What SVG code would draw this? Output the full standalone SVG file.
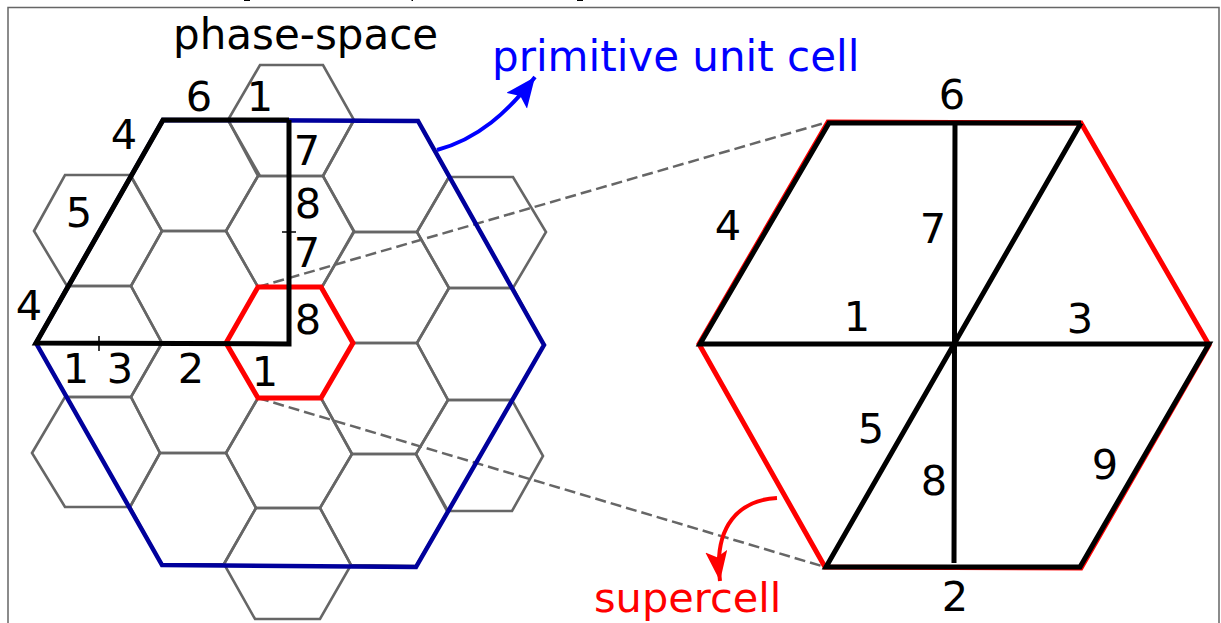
<svg xmlns="http://www.w3.org/2000/svg" width="1221" height="623" viewBox="0 0 1221 623">
<style>
.hex{fill:none;stroke:#666;stroke-width:2.600;stroke-linejoin:miter}
.t{font-family:"DejaVu Sans",sans-serif;font-size:41.500px;fill:#000}
.c{text-anchor:middle}
.bl{fill:none;stroke:#000;stroke-width:5;stroke-linejoin:miter}
.rd{fill:none;stroke:#f00;stroke-width:5}
.dash{fill:none;stroke:#666;stroke-width:2.500;stroke-dasharray:11 5}
</style>
<defs>
<marker id="ab" markerUnits="userSpaceOnUse" markerWidth="36" markerHeight="30" refX="30" refY="13" orient="auto"><path d="M0,0L30,13L0,26L6,13Z" fill="#00f"/></marker>
<marker id="ar" markerUnits="userSpaceOnUse" markerWidth="36" markerHeight="30" refX="30" refY="11" orient="auto"><path d="M0,0L30,11L0,22L6,11Z" fill="#f00"/></marker>
</defs>
<rect width="1221" height="623" fill="#fff"/>
<path d="M8,623V7.500H1219V623" fill="none" stroke="#666" stroke-width="1.500"/>
<path d="M244,0.500H250M411.500,0.500H413M577,0.500H583" fill="none" stroke="#000" stroke-width="1"/>
<g id="grid">
<polygon class="hex" points="228,120 260,65 323,65 354,120 323,176 260,176"/>
<polygon class="hex" points="131,176 163,120 228,120 258,176 226,231 162,231"/>
<polygon class="hex" points="34,231 65,175 130,175 162,231 131,286 67,286"/>
<polygon class="hex" points="131,286 162,231 226,231 258,287 226,343 162,343"/>
<polygon class="hex" points="226,231 258,176 323,176 354,231 322,287 258,287"/>
<polygon class="hex" points="323,176 354,120 418,121 449,177 417,232 354,232"/>
<polygon class="hex" points="417,232 449,177 513,177 546,232 513,288 449,288"/>
<polygon class="hex" points="322,287 354,232 417,232 449,288 417,343 353,343"/>
<polygon class="hex" points="36,343 67,286 131,286 162,343 131,397 67,397"/>
<polygon class="hex" points="417,343 449,288 513,288 544,345 512,400 448,400"/>
<polygon class="hex" points="353,343 417,343 448,400 416,454 352,454 321,398"/>
<polygon class="hex" points="162,343 226,343 258,398 226,453 160,453 131,397"/>
<polygon class="hex" points="32,453 65,397 131,397 160,453 130,507 65,507"/>
<polygon class="hex" points="226,453 258,398 321,398 352,454 320,508 256,508"/>
<polygon class="hex" points="160,453 226,453 256,508 224,564 162,565 130,507"/>
<polygon class="hex" points="352,454 416,454 448,511 416,566 351,565 320,508"/>
<polygon class="hex" points="416,454 448,400 512,400 543,456 512,511 447,511"/>
<polygon class="hex" points="224,564 256,508 320,508 351,565 320,619 255,619"/>
</g>
<g id="connectors">
<path class="dash" d="M258,287L828,122"/>
<path class="dash" d="M258,398L825,567"/>
<path d="M437,150C478,139 508,112 535,77" fill="none" stroke="#00f" stroke-width="4" marker-end="url(#ab)"/>
<path d="M777,498C740,500 713,525 720,581" fill="none" stroke="#f00" stroke-width="4" marker-end="url(#ar)"/>
</g>
<g id="primitive-cell">
<polygon points="36,343 163,120 418,121 544,345 416,567 162,565" fill="none" stroke="#00009c" stroke-width="4.500"/>
</g>
<g id="supercell-left">
<polygon points="226,343 258,287 321,287 353,343 321,398 258,398" fill="none" stroke="#f00" stroke-width="5"/>
</g>
<g id="black-cell">
<path class="bl" d="M289,120H163L36,343L289,344V120"/>
<path d="M282,232H296M99,336V351" fill="none" stroke="#000" stroke-width="1.500"/>
</g>
<g id="supercell-right">
<polygon class="rd" points="699,344 828,122 1081,123 1209,345 1081,568 825,567"/>
<path class="bl" d="M1081,123H829L700,344H1209L1080,567H826L1081,123M955,123L954,563"/>
</g>
<g id="labels">
<text class="t" x="173" y="49" style="font-size:42px">phase-space</text>
<text x="492" y="71" style="font-family:'DejaVu Sans',sans-serif;font-size:42px;fill:#00f">primitive unit cell</text>
<text x="594" y="612" style="font-family:'DejaVu Sans',sans-serif;font-size:41.500px;fill:#f00">supercell</text>
<g class="t c">
<text x="199" y="111">6</text><text x="260" y="111">1</text><text x="124" y="149">4</text>
<text x="307" y="165">7</text><text x="308" y="218">8</text><text x="307" y="267">7</text><text x="308" y="334">8</text>
<text x="79" y="227">5</text><text x="29" y="320">4</text>
<text x="76" y="383">1</text><text x="120" y="383">3</text><text x="191" y="383">2</text><text x="265" y="386">1</text>
<text x="952" y="109">6</text><text x="728" y="240">4</text><text x="933" y="243">7</text><text x="857" y="331">1</text><text x="1080" y="333">3</text>
<text x="871" y="443">5</text><text x="1105" y="479">9</text><text x="934" y="495">8</text><text x="955" y="611">2</text>
</g>
</g>
</svg>
